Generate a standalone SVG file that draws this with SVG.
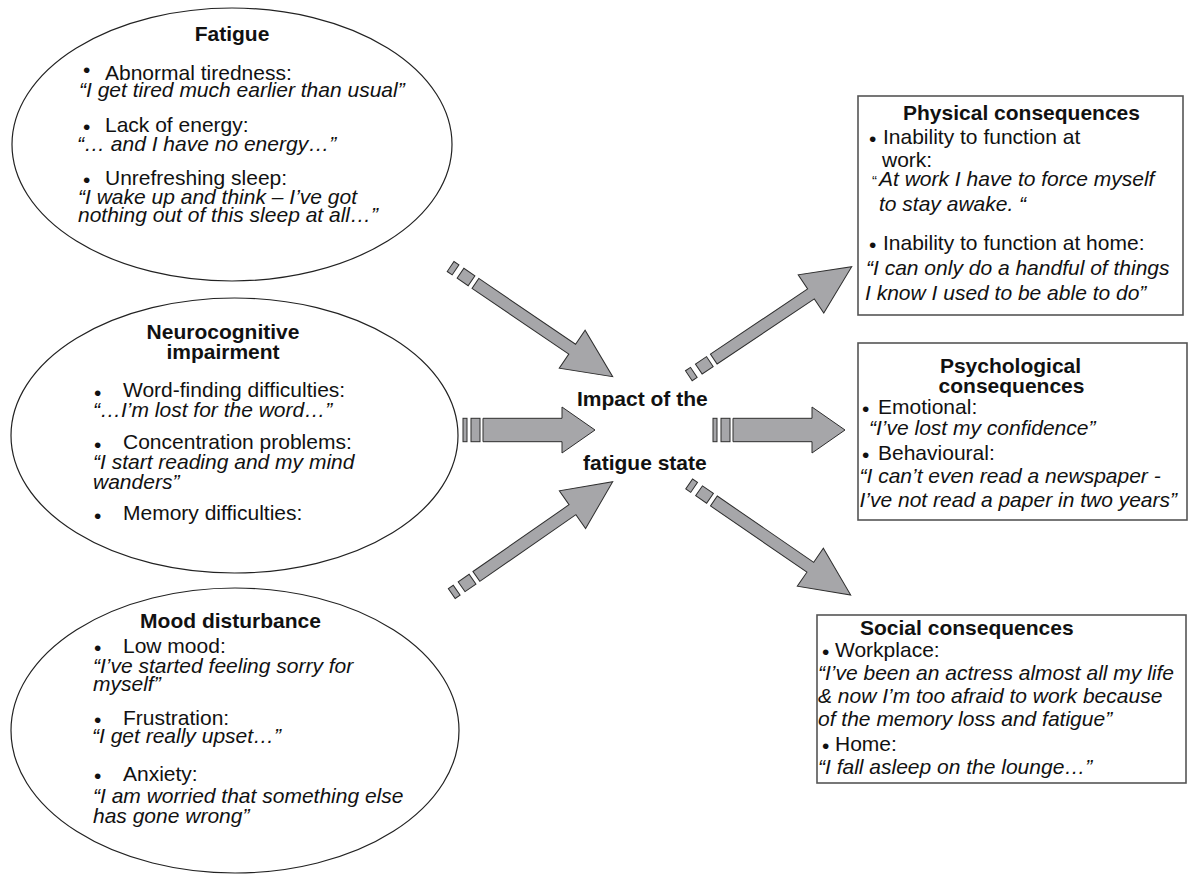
<svg xmlns="http://www.w3.org/2000/svg" width="1189" height="875" viewBox="0 0 1189 875">
<style>
text{font-family:"Liberation Sans",Arial,sans-serif;font-size:21px;fill:#111}
.h{font-weight:bold}
.c{text-anchor:middle}
.q{font-style:italic}
.el{fill:#fff;stroke:#222;stroke-width:1.2}
.bx{fill:#fff;stroke:#555;stroke-width:1.6}
.ar{fill:#a6a6a9;stroke:#2e2e2e;stroke-width:1}
</style>
<defs>
<g id="harrow" class="ar">
<rect x="0" y="-11.7" width="4" height="23.4"/>
<rect x="8" y="-11.7" width="9" height="23.4"/>
<polygon points="20,-11.7 99,-11.7 99,-23 132,0 99,23 99,11.7 20,11.7"/>
</g>
<g id="darrow" class="ar">
<rect x="-196" y="-6" width="6" height="12"/>
<rect x="-184" y="-6" width="13.3" height="12"/>
<polygon points="-166,-6 -49,-6 -49,-23 0,0 -49,23 -49,6 -166,6"/>
</g>
</defs>

<g id="connectors">
<use href="#darrow" transform="translate(612.7,376.7) rotate(34.2)"/>
<use href="#harrow" transform="translate(463,430)"/>
<use href="#darrow" transform="translate(612.7,481.7) rotate(-34.8)"/>
<use href="#darrow" transform="translate(851.7,266.7) rotate(-33.8)"/>
<use href="#harrow" transform="translate(713,430)"/>
<use href="#darrow" transform="translate(850.7,595) rotate(34.5)"/>
</g>

<g id="fatigue">
<ellipse class="el" cx="232" cy="144.5" rx="220" ry="136.5"/>
<text class="h c" x="232" y="41">Fatigue</text>
<text y="80"><tspan x="83" dy="-3">•</tspan><tspan x="105" dy="3">Abnormal tiredness:</tspan></text>
<text class="q" x="79" y="97">“I get tired much earlier than usual”</text>
<text y="132"><tspan x="83" dy="1.5">•</tspan><tspan x="105" dy="-1.5">Lack of energy:</tspan></text>
<text class="q" x="77" y="151">“… and I have no energy…”</text>
<text y="185"><tspan x="83" dy="1.5">•</tspan><tspan x="105" dy="-1.5">Unrefreshing sleep:</tspan></text>
<text class="q" x="78" y="204">“I wake up and think – I’ve got</text>
<text class="q" x="78" y="222">nothing out of this sleep at all…”</text>
</g>

<g id="neurocognitive">
<ellipse class="el" cx="234.5" cy="435.5" rx="223.5" ry="137.5"/>
<text class="h c" x="223" y="339">Neurocognitive</text>
<text class="h c" x="223" y="359">impairment</text>
<text y="397"><tspan x="94" dy="2.5">•</tspan><tspan x="123" dy="-2.5">Word-finding difficulties:</tspan></text>
<text class="q" x="93" y="417">“…I’m lost for the word…”</text>
<text y="449"><tspan x="94" dy="2.5">•</tspan><tspan x="123" dy="-2.5">Concentration problems:</tspan></text>
<text class="q" x="93" y="469">“I start reading and my mind</text>
<text class="q" x="93" y="489">wanders”</text>
<text y="520"><tspan x="94" dy="2.5">•</tspan><tspan x="123" dy="-2.5">Memory difficulties:</tspan></text>
</g>

<g id="mood">
<ellipse class="el" cx="235" cy="730.5" rx="224" ry="142.5"/>
<text class="h c" x="230.5" y="628">Mood disturbance</text>
<text y="653"><tspan x="94" dy="2">•</tspan><tspan x="123" dy="-2">Low mood:</tspan></text>
<text class="q" x="93" y="673">“I’ve started feeling sorry for</text>
<text class="q" x="93" y="691">myself”</text>
<text y="725"><tspan x="94" dy="2">•</tspan><tspan x="123" dy="-2">Frustration:</tspan></text>
<text class="q" x="92" y="743">“I get really upset…”</text>
<text y="781"><tspan x="94" dy="2">•</tspan><tspan x="123" dy="-2">Anxiety:</tspan></text>
<text class="q" x="93" y="803">“I am worried that something else</text>
<text class="q" x="93" y="823">has gone wrong”</text>
</g>

<g id="impact">
<text class="h" x="577" y="406">Impact of the</text>
<text class="h" x="583" y="470">fatigue state</text>
</g>

<g id="physical">
<rect class="bx" x="858" y="96" width="325" height="219"/>
<text class="h c" x="1021.5" y="120">Physical consequences</text>
<text y="144"><tspan x="869" dy="2">•</tspan><tspan x="883" dy="-2">Inability to function at</tspan></text>
<text x="882" y="167">work:</text>
<text class="q" x="872" y="186"><tspan style="font-style:normal;font-size:15px">“</tspan><tspan x="879">At work I have to force myself</tspan></text>
<text class="q" x="879" y="211">to stay awake. “</text>
<text y="250"><tspan x="869" dy="2">•</tspan><tspan x="883" dy="-2">Inability to function at home:</tspan></text>
<text class="q" x="866" y="275">“I can only do a handful of things</text>
<text class="q" x="865" y="300">I know I used to be able to do”</text>
</g>

<g id="psychological">
<rect class="bx" x="858" y="343" width="329" height="177"/>
<text class="h c" x="1010.5" y="373">Psychological</text>
<text class="h c" x="1011.5" y="393">consequences</text>
<text y="414"><tspan x="862" dy="2">•</tspan><tspan x="878" dy="-2">Emotional:</tspan></text>
<text class="q" x="869" y="435">“I’ve lost my confidence”</text>
<text y="460"><tspan x="862" dy="2">•</tspan><tspan x="878" dy="-2">Behavioural:</tspan></text>
<text class="q" x="859.5" y="483">“I can’t even read a newspaper -</text>
<text class="q" x="859.5" y="507">I’ve not read a paper in two years”</text>
</g>

<g id="social">
<rect class="bx" x="817" y="615" width="369" height="168"/>
<text class="h" x="860" y="635">Social consequences</text>
<text y="657"><tspan x="822" dy="2">•</tspan><tspan x="835" dy="-2">Workplace:</tspan></text>
<text class="q" x="818" y="680">“I’ve been an actress almost all my life</text>
<text class="q" x="818" y="703">&amp; now I’m too afraid to work because</text>
<text class="q" x="818" y="726">of the memory loss and fatigue”</text>
<text y="751"><tspan x="822" dy="2">•</tspan><tspan x="835" dy="-2">Home:</tspan></text>
<text class="q" x="818" y="774">“I fall asleep on the lounge…”</text>
</g>
</svg>
